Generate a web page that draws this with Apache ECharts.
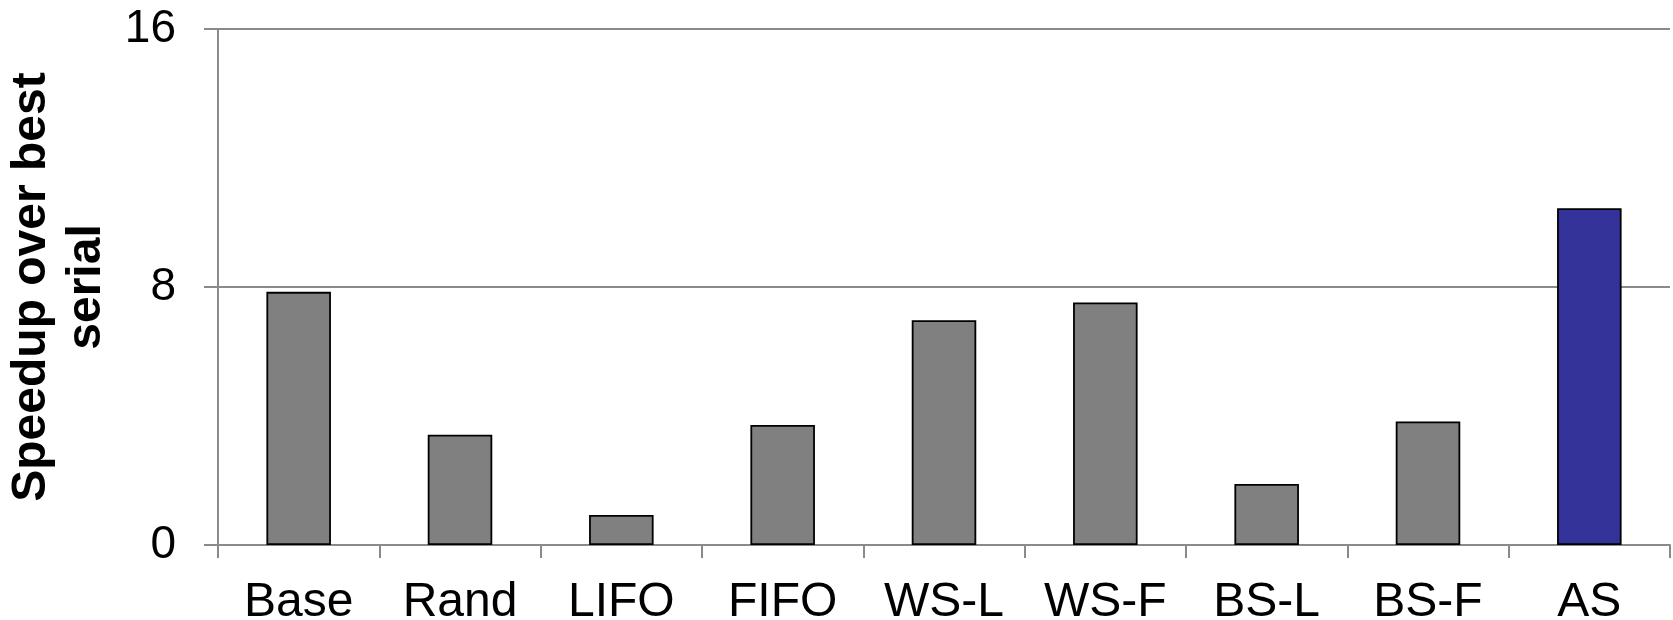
<!DOCTYPE html>
<html>
<head>
<meta charset="utf-8">
<script src="https://cdn.jsdelivr.net/npm/echarts@6/dist/echarts.min.js"></script>
<style>
html,body{margin:0;padding:0;background:#fff;}
#chart{width:1673px;height:620px;}
</style>
</head>
<body>
<div id="chart"></div>
<script>
const categories = ['Base', 'Rand', 'LIFO', 'FIFO', 'WS-L', 'WS-F', 'BS-L', 'BS-F', 'AS'];
const speedups = [7.85, 3.42, 0.93, 3.72, 6.97, 7.52, 1.89, 3.83, 10.44];
const highlighted = 'AS';
const yTicks = [0, 8, 16];

const chart = echarts.init(document.getElementById('chart'), null, {renderer: 'canvas'});
const FONT = '"Liberation Sans", Arial, Helvetica, sans-serif';
const AXIS = '#8a8a8a';

chart.setOption({
  animation: false,
  backgroundColor: '#ffffff',
  grid: {left: 218, right: 3, top: 29, bottom: 75, containLabel: false, outerBoundsMode: 'none'},
  xAxis: {
    type: 'category',
    data: categories,
    boundaryGap: true,
    axisLine: {show: true, lineStyle: {color: AXIS, width: 2}},
    axisTick: {show: true, alignWithLabel: false, length: 13, lineStyle: {color: AXIS, width: 2}},
    axisLabel: {color: '#000', fontFamily: FONT, fontSize: 48, margin: 34, interval: 0},
    splitLine: {show: false}
  },
  yAxis: {
    type: 'value',
    min: yTicks[0],
    max: yTicks[yTicks.length - 1],
    interval: yTicks[1] - yTicks[0],
    name: 'Speedup over best\nserial',
    nameLocation: 'middle',
    nameGap: 90,
    nameRotate: 90,
    nameTextStyle: {color: '#000', fontFamily: FONT, fontSize: 48, fontWeight: 'bold', lineHeight: 55, align: 'center'},
    axisLine: {show: true, lineStyle: {color: AXIS, width: 2}},
    axisTick: {show: true, length: 14, lineStyle: {color: AXIS, width: 2}},
    axisLabel: {color: '#000', fontFamily: FONT, fontSize: 46, margin: 42},
    splitLine: {show: true, lineStyle: {color: AXIS, width: 2}}
  },
  series: [{
    type: 'bar',
    barWidth: '40%',
    data: categories.map((c, i) => ({
      value: speedups[i],
      itemStyle: {color: c === highlighted ? '#333399' : '#808080', borderColor: '#000', borderWidth: 1.8}
    }))
  }]
});
</script>
</body>
</html>
